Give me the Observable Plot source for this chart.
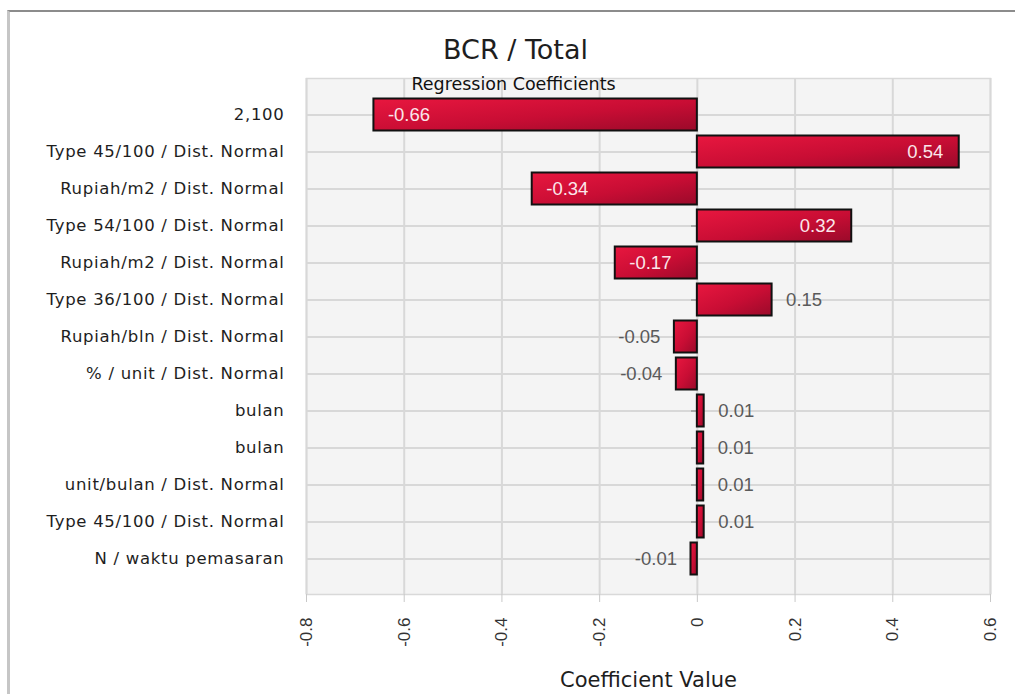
<!DOCTYPE html>
<html><head><meta charset="utf-8">
<script src="https://cdn.jsdelivr.net/npm/d3@7"></script>
<script src="https://cdn.jsdelivr.net/npm/@observablehq/plot@0.6"></script>
<style>
body{margin:0;background:#fff;}
#wrap{position:relative;width:1015px;height:694px;overflow:hidden;}
#wrap svg{position:absolute;left:0;top:0;}
#wrap svg g[aria-label="y-axis tick label"] text{letter-spacing:0.7px;}
#border{position:absolute;left:7px;top:10px;width:1100px;height:800px;border-top:2px solid #8c8c8c;border-left:3px solid #c6c6c6;pointer-events:none;}
</style></head><body><div id="wrap"><div id="border"></div></div>
<script>
const variables = [
  "2,100",
  "Type 45/100 / Dist. Normal",
  "Rupiah/m2 / Dist. Normal",
  "Type 54/100 / Dist. Normal",
  "Rupiah/m2 / Dist. Normal",
  "Type 36/100 / Dist. Normal",
  "Rupiah/bln / Dist. Normal",
  "% / unit / Dist. Normal",
  "bulan",
  "bulan",
  "unit/bulan / Dist. Normal",
  "Type 45/100 / Dist. Normal",
  "N / waktu pemasaran"
];
const coefficients = [-0.662, 0.536, -0.338, 0.316, -0.168, 0.153, -0.047, -0.043, 0.014, 0.013, 0.013, 0.014, -0.013];
const xTicks = [-0.8, -0.6, -0.4, -0.2, 0, 0.2, 0.4, 0.6];
const title = "BCR / Total";
const subtitle = "Regression Coefficients";
const xLabel = "Coefficient Value";

const data = variables.map((name, i) => ({i, name, value: coefficients[i]}));
const fmt = d => d.value.toFixed(2);
const inPos = data.filter(d => d.value >= 0.16);
const inNeg = data.filter(d => d.value <= -0.16);
const outPos = data.filter(d => d.value >= 0 && d.value < 0.16);
const outNeg = data.filter(d => d.value < 0 && d.value > -0.16);
const numFont = "Liberation Sans, Arial, sans-serif";
const labFont = "DejaVu Sans, sans-serif";

const svg = Plot.plot({
  width: 1015,
  height: 694,
  marginLeft: 306,
  marginRight: 25,
  marginTop: 78,
  marginBottom: 100,
  style: {background: "transparent", overflow: "visible"},
  x: {domain: [-0.8, 0.6], ticks: xTicks},
  y: {domain: d3.range(variables.length), padding: 0, insetTop: 16.4, insetBottom: 16.4},
  marks: [
    Plot.frame({fill: "#f4f4f4", stroke: "#d9d9d9", strokeWidth: 1.5}),
    Plot.ruleX(xTicks, {stroke: "#d8d8d8", strokeWidth: 2}),
    Plot.ruleY(data, {y: "i", stroke: "#d8d8d8", strokeWidth: 2}),
    Plot.ruleY(data, {y: "i", x1: 0, x2: -0.012, stroke: "#9a9a9a", strokeWidth: 1.5}),
    Plot.barX(data, {y: "i", x: "value", fill: "url(#barGrad)", stroke: "#111", strokeWidth: 2, insetTop: 2.5, insetBottom: 2.5}),
    Plot.text(inPos, {y: "i", x: "value", text: fmt, textAnchor: "end", dx: -16, fill: "#fbe6ea", fontSize: 18.5, fontFamily: numFont}),
    Plot.text(inNeg, {y: "i", x: "value", text: fmt, textAnchor: "start", dx: 14, fill: "#fbe6ea", fontSize: 18.5, fontFamily: numFont}),
    Plot.text(outPos, {y: "i", x: "value", text: fmt, textAnchor: "start", dx: 14, fill: "#5a5a5a", fontSize: 18.5, fontFamily: numFont}),
    Plot.text(outNeg, {y: "i", x: "value", text: fmt, textAnchor: "end", dx: -14, fill: "#5a5a5a", fontSize: 18.5, fontFamily: numFont}),
    Plot.axisY({tickSize: 0, tickPadding: 22, tickFormat: i => variables[i], fontSize: 16.5, fontFamily: labFont, color: "#1e1e1e", label: null}),
    Plot.axisX({ticks: xTicks, tickSize: 8, tickPadding: 15, tickRotate: -90, tickFormat: d => String(d), fontSize: 17, fontFamily: numFont, color: "#333", stroke: "#c8c8c8", label: null}),
    Plot.text([xLabel], {frameAnchor: "bottom", lineAnchor: "middle", dy: 86, fontSize: 21, fontFamily: labFont, fill: "#1e1e1e"}),
    Plot.text([title], {frameAnchor: "top", lineAnchor: "middle", dx: -133, dy: -28, fontSize: 27, fontFamily: labFont, fill: "#1e1e1e"}),
    Plot.text([subtitle], {frameAnchor: "top", lineAnchor: "middle", dx: -135, dy: 6, fontSize: 17.5, fontFamily: labFont, fill: "#111"})
  ]
});

const defs = d3.create("svg:defs");
const grad = defs.append("linearGradient").attr("id", "barGrad").attr("x1", 0).attr("y1", 0).attr("x2", 1).attr("y2", 1);
grad.append("stop").attr("offset", "0%").attr("stop-color", "#e8173f");
grad.append("stop").attr("offset", "55%").attr("stop-color", "#c80d34");
grad.append("stop").attr("offset", "100%").attr("stop-color", "#9a0a2a");
svg.insertBefore(defs.node(), svg.firstChild);
document.getElementById("wrap").insertBefore(svg, document.getElementById("border"));
</script>
</body></html>
